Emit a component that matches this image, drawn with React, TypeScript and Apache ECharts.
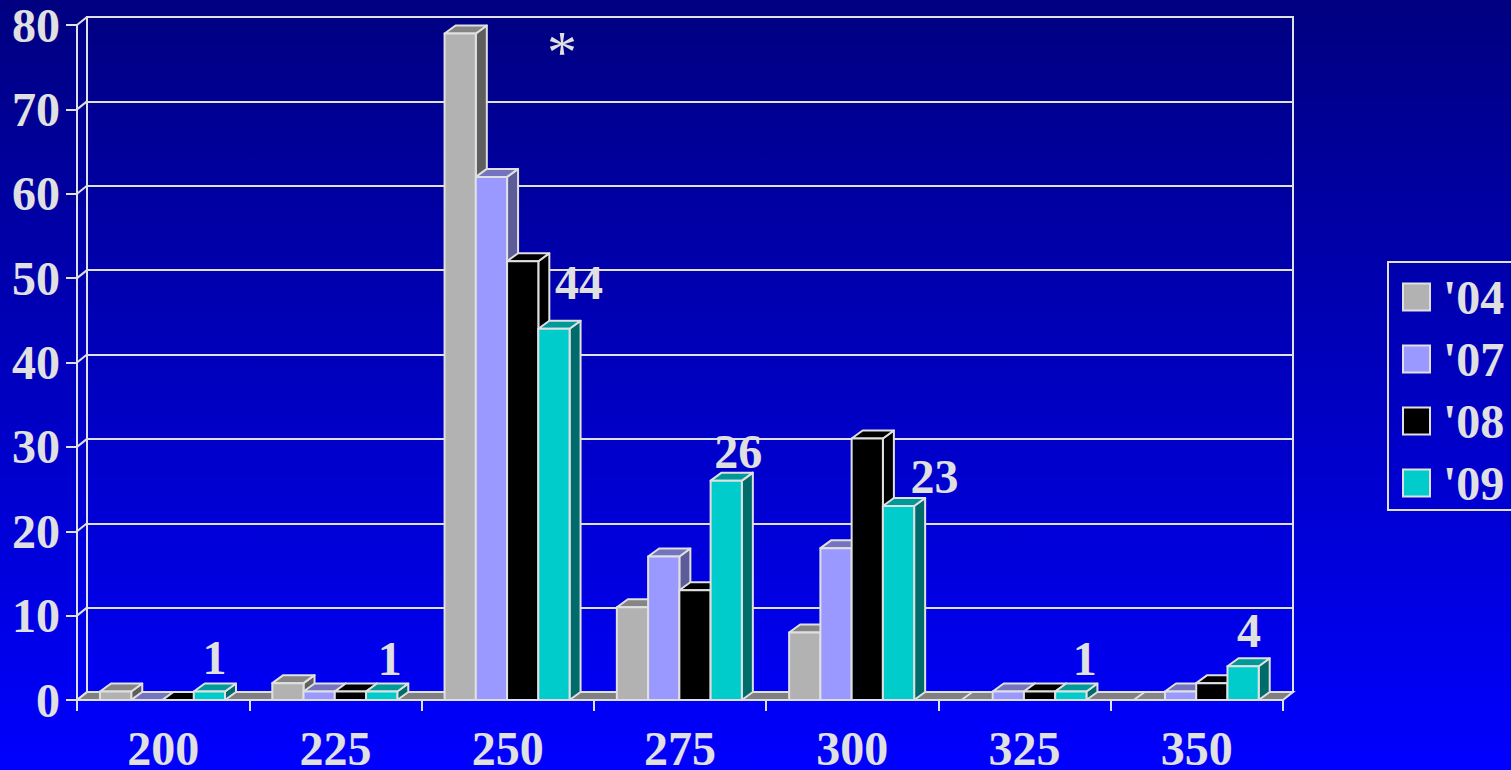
import React, { useEffect, useRef } from "react";
import * as echarts from "echarts";

const categories = ["200", "225", "250", "275", "300", "325", "350"];
const yearNames = ["'04", "'07", "'08", "'09"];
const values04 = [1, 2, 79, 11, 8, 0, 0];
const values07 = [0, 1, 62, 17, 18, 1, 1];
const values08 = [0, 1, 52, 13, 31, 1, 2];
const values09 = [1, 1, 44, 26, 23, 1, 4];
const yTicks = [0, 10, 20, 30, 40, 50, 60, 70, 80];
const labelled09 = ["1", "1", "44", "26", "23", "1", "4"];

const INK = "#E0E0E0";
const FONT = "Liberation Serif";
const DX = 11;
const DY = 8;
const WALL_DX = 10;
const SIDE_PAD = 23;
const BAR_W = 31.25;

const palettes = [
  { front: "#B2B2B2", top: "#858585", side: "#5E5E5E" },
  { front: "#9999FF", top: "#7373BF", side: "#5C5C99" },
  { front: "#000000", top: "#000000", side: "#000000" },
  { front: "#00CCCC", top: "#009999", side: "#006B6B" },
];

// manual placement of the value labels relative to the bar's front-top centre
const labelNudge: [number, number][] = [
  [5, -34], [8, -33], [25, -46], [12, -29], [36, -29], [14, -33], [6, -36],
];

function barSeries(idx: number, values: number[]) {
  const pal = palettes[idx];
  return {
    type: "custom",
    name: yearNames[idx],
    xAxisIndex: 0,
    yAxisIndex: 0,
    clip: false,
    z: 5,
    itemStyle: { color: pal.front },
    encode: { x: 0, y: 1 },
    data: values.map((v, i) => [i, v]),
    renderItem: (params: any, api: any) => {
      const cat = api.value(0);
      const val = api.value(1);
      const [cx, y] = api.coord([cat, val]);
      const base = api.coord([cat, 0])[1];
      const band = api.size([1, 0])[0];
      const x0 = cx - band / 2 + SIDE_PAD + idx * BAR_W;
      const x1 = x0 + BAR_W;
      const stroke = { stroke: INK, lineWidth: 2, lineJoin: "round" };
      const children: any[] = [];
      if (val > 0) {
        children.push({
          type: "polygon",
          shape: { points: [[x1, y], [x1 + DX, y - DY], [x1 + DX, base - DY], [x1, base]] },
          style: { fill: pal.side, ...stroke },
        });
      }
      children.push({
        type: "polygon",
        shape: { points: [[x0, y], [x0 + DX, y - DY], [x1 + DX, y - DY], [x1, y]] },
        style: { fill: pal.top, ...stroke },
      });
      if (val > 0) {
        children.push({
          type: "rect",
          shape: { x: x0, y, width: BAR_W, height: base - y },
          style: { fill: pal.front, ...stroke },
        });
      }
      return { type: "group", children };
    },
  };
}

const wallSeries = {
  type: "custom",
  name: "walls",
  xAxisIndex: 0,
  yAxisIndex: 0,
  clip: false,
  z: 3,
  silent: true,
  encode: { x: 0, y: 1 },
  data: [[0, 0]],
  renderItem: (params: any, api: any) => {
    const c = params.coordSys;
    const x0 = c.x;
    const x1 = c.x + c.width;
    const base = c.y + c.height;
    const style = { stroke: INK, lineWidth: 2 };
    const children: any[] = [
      {
        type: "polygon",
        shape: { points: [[x0, base], [x0 + WALL_DX, base - DY], [x1 + WALL_DX, base - DY], [x1, base]] },
        style: { fill: "#808080", ...style },
      },
    ];
    yTicks.forEach((t) => {
      const y = api.coord([0, t])[1];
      children.push({
        type: "line",
        shape: { x1: x0, y1: y, x2: x0 + WALL_DX, y2: y - DY },
        style,
      });
    });
    return { type: "group", children };
  },
};

const labelSeries = {
  type: "custom",
  name: "labels",
  xAxisIndex: 0,
  yAxisIndex: 0,
  clip: false,
  z: 8,
  silent: true,
  encode: { x: 0, y: 1 },
  data: values09.map((v, i) => [i, v]),
  renderItem: (params: any, api: any) => {
    const cat = api.value(0);
    const [cx, y] = api.coord([cat, api.value(1)]);
    const band = api.size([1, 0])[0];
    const center = cx - band / 2 + SIDE_PAD + 3.5 * BAR_W;
    const [nx, ny] = labelNudge[cat];
    return {
      type: "text",
      style: {
        text: labelled09[cat],
        x: center + nx,
        y: y + ny,
        align: "center",
        verticalAlign: "middle",
        fill: INK,
        font: `bold 48px "${FONT}"`,
      },
    };
  },
};

export default function App() {
  const ref = useRef<HTMLDivElement>(null);
  useEffect(() => {
    const chart = echarts.init(ref.current!, undefined, { renderer: "svg" });
    chart.setOption({
      animation: false,
      backgroundColor: {
        type: "linear",
        x: 0,
        y: 0,
        x2: 0,
        y2: 1,
        colorStops: [
          { offset: 0, color: "#000080" },
          { offset: 1, color: "#0000FF" },
        ],
      },
      grid: [
        { left: 77, top: 25, width: 1206, height: 675, containLabel: false, outerBoundsMode: "none" },
        {
          left: 87,
          top: 17,
          width: 1206,
          height: 675,
          outerBoundsMode: "none",
          show: true,
          backgroundColor: "transparent",
          borderColor: INK,
          borderWidth: 2,
        },
      ],
      xAxis: [
        {
          type: "category",
          gridIndex: 0,
          data: categories,
          boundaryGap: true,
          axisLine: { show: true, lineStyle: { color: INK, width: 2 } },
          axisTick: { show: true, length: 11, lineStyle: { color: INK, width: 2 } },
          axisLabel: {
            color: INK,
            fontFamily: FONT,
            fontWeight: "bold",
            fontSize: 48,
            lineHeight: 38,
            margin: 29,
            interval: 0,
          },
          splitLine: { show: false },
        },
        {
          type: "category",
          gridIndex: 1,
          data: categories,
          axisLine: { show: false },
          axisTick: { show: false },
          axisLabel: { show: false },
          splitLine: { show: false },
        },
      ],
      yAxis: [
        {
          type: "value",
          gridIndex: 0,
          min: 0,
          max: 80,
          interval: 10,
          axisLine: { show: true, lineStyle: { color: INK, width: 2 } },
          axisTick: { show: true, length: 11, lineStyle: { color: INK, width: 2 } },
          axisLabel: {
            color: INK,
            fontFamily: FONT,
            fontWeight: "bold",
            fontSize: 48,
            margin: 17,
          },
          splitLine: { show: false },
        },
        {
          type: "value",
          gridIndex: 1,
          min: 0,
          max: 80,
          interval: 10,
          axisLine: { show: false },
          axisTick: { show: false },
          axisLabel: { show: false },
          splitLine: { show: true, lineStyle: { color: INK, width: 2 } },
        },
      ],
      legend: {
        left: 1388,
        top: 262,
        orient: "vertical",
        data: yearNames,
        icon: "rect",
        itemWidth: 27,
        itemHeight: 27,
        itemGap: 10,
        padding: [9, 14, 1, 14],
        borderColor: INK,
        borderWidth: 2,
        backgroundColor: "transparent",
        itemStyle: { borderColor: INK, borderWidth: 2 },
        textStyle: {
          color: INK,
          fontFamily: FONT,
          fontWeight: "bold",
          fontSize: 48,
          lineHeight: 48,
          padding: [0, 0, 4, 8],
        },
        selectedMode: false,
      },
      graphic: [
        {
          type: "text",
          x: 562,
          y: 52,
          style: {
            text: "*",
            align: "center",
            verticalAlign: "middle",
            fill: INK,
            font: `normal 60px "${FONT}"`,
          },
        },
      ],
      series: [
        wallSeries,
        barSeries(0, values04),
        barSeries(1, values07),
        barSeries(2, values08),
        barSeries(3, values09),
        labelSeries,
      ],
    });
    return () => chart.dispose();
  }, []);
  return (
    <div
      ref={ref}
      style={{ position: "fixed", left: 0, top: 0, width: 1511, height: 770 }}
    />
  );
}
